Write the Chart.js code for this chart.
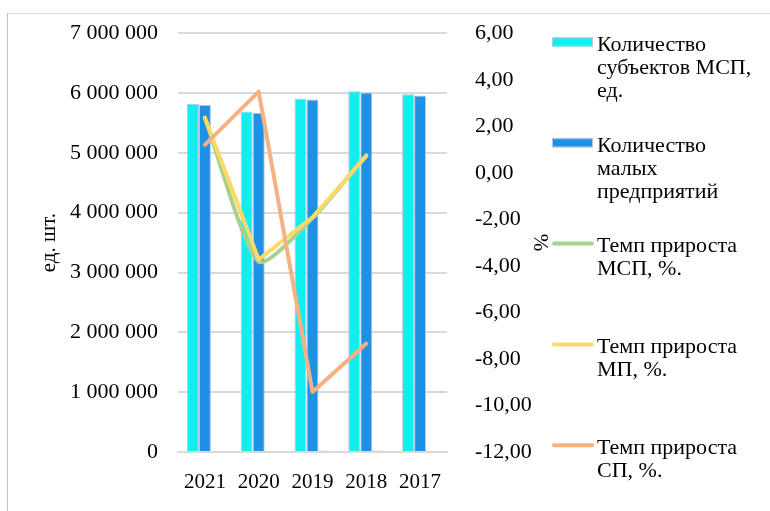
<!DOCTYPE html>
<html><head><meta charset="utf-8">
<script src="https://cdn.jsdelivr.net/npm/chart.js@4"></script>
<style>
html,body{margin:0;padding:0;background:#fff;}
#wrap{position:relative;width:770px;height:511px;overflow:hidden;background:#fff;}
#frame{position:absolute;left:7px;top:13px;width:800px;height:600px;border-left:1px solid #e3b4bb;border-top:1px solid #d9d9d9;}
canvas{position:absolute;left:0;top:0;}
</style></head>
<body><div id="wrap"><div id="frame"></div><canvas id="c" width="770" height="511"></canvas></div>
<script>
const years = ['2021', '2020', '2019', '2018', '2017'];
const smeCount = [5820000, 5690000, 5910000, 6030000, 5980000];
const smallCount = [5800000, 5670000, 5890000, 6010000, 5960000];
const mediumCount = [18000, 18500, 19000, 19500, 18500];
const smeGrowth = [2.35, -3.82, -1.95, 0.75, null];
const smallGrowth = [2.37, -3.73, -1.91, 0.73, null];
const mediumGrowth = [1.2, 3.49, -9.42, -7.34, null];
const leftTicks = { min: 0, max: 7000000, step: 1000000 };
const rightTicks = { min: -12, max: 6, step: 2 };
const legendItems = [
  { kind: 'box', color: '#12EDED', lines: ['Количество', 'субъектов МСП,', 'ед.'] },
  { kind: 'box', color: '#1F91E4', lines: ['Количество', 'малых', 'предприятий'] },
  { kind: 'line', color: '#A9D18E', lines: ['Темп прироста', 'МСП, %.'] },
  { kind: 'line', color: '#FFD966', lines: ['Темп прироста', 'МП, %.'] },
  { kind: 'line', color: '#F4B183', lines: ['Темп прироста', 'СП, %.'] }
];

const FONT = '"Liberation Serif", "Times New Roman", serif';
const fmtInt = v => String(Math.round(v)).replace(/\B(?=(\d{3})+(?!\d))/g, ' ');
const fmtDec = v => v.toFixed(2).replace('.', ',');

const legendPlugin = {
  id: 'customLegend',
  afterDraw(chart) {
    const ctx = chart.ctx;
    ctx.save();
    ctx.font = '22px ' + FONT;
    ctx.fillStyle = '#000';
    ctx.textBaseline = 'middle';
    ctx.textAlign = 'left';
    legendItems.forEach((it, i) => {
      const my = 42 + 100.8 * i;
      if (it.kind === 'box') {
        ctx.fillStyle = it.color;
        ctx.fillRect(552, my - 4.5, 41, 9);
        ctx.strokeStyle = '#b4c7e7';
        ctx.lineWidth = 1;
        ctx.strokeRect(552.5, my - 4, 40, 8);
      } else {
        ctx.strokeStyle = it.color;
        ctx.lineWidth = 4;
        ctx.lineCap = 'round';
        ctx.beginPath();
        ctx.moveTo(554, my);
        ctx.lineTo(592, my);
        ctx.stroke();
      }
      ctx.fillStyle = '#000';
      it.lines.forEach((t, j) => ctx.fillText(t, 597, my + 3 + 23 * j));
    });
    ctx.restore();
  }
};

new Chart(document.getElementById('c'), {
  data: {
    labels: years,
    datasets: [
      { type: 'bar', label: 'Количество субъектов МСП, ед.', data: smeCount, backgroundColor: '#12EDED', borderColor: '#B4C7E7', borderWidth: 1, yAxisID: 'y', order: 10 },
      { type: 'bar', label: 'Количество малых предприятий', data: smallCount, backgroundColor: '#1F91E4', borderColor: '#B4C7E7', borderWidth: 1, yAxisID: 'y', order: 11 },
      { type: 'bar', label: 'Количество средних предприятий', data: mediumCount, backgroundColor: '#A9B8E0', borderWidth: 0, yAxisID: 'y', order: 12 },
      { type: 'line', label: 'Темп прироста МСП, %.', data: smeGrowth, borderColor: '#A9D18E', borderWidth: 4, pointRadius: 0, tension: 0.22, yAxisID: 'y1', order: 3, borderCapStyle: 'round', borderJoinStyle: 'round' },
      { type: 'line', label: 'Темп прироста МП, %.', data: smallGrowth, borderColor: '#FFD966', borderWidth: 4, pointRadius: 0, tension: 0, yAxisID: 'y1', order: 2, borderCapStyle: 'round', borderJoinStyle: 'round' },
      { type: 'line', label: 'Темп прироста СП, %.', data: mediumGrowth, borderColor: '#F4B183', borderWidth: 4, pointRadius: 0, tension: 0, yAxisID: 'y1', order: 1, borderCapStyle: 'round', borderJoinStyle: 'round' }
    ]
  },
  options: {
    responsive: false,
    animation: false,
    devicePixelRatio: 1,
    layout: { padding: { left: 0, right: 218, top: 32, bottom: 0 } },
    datasets: { bar: { categoryPercentage: 0.67, barPercentage: 1.0 } },
    plugins: { legend: { display: false }, tooltip: { enabled: false } },
    scales: {
      x: {
        grid: { display: false },
        border: { display: true, color: '#d9d9d9', width: 2 },
        ticks: { color: '#000', font: { family: FONT, size: 21 }, padding: 10, maxRotation: 0 },
        afterFit(s) { s.height = 59; }
      },
      y: {
        position: 'left',
        min: leftTicks.min, max: leftTicks.max,
        ticks: { stepSize: leftTicks.step, callback: v => fmtInt(v), color: '#000', font: { family: FONT, size: 22 }, padding: 20 },
        grid: { color: '#d9d9d9', lineWidth: 2, drawTicks: false },
        border: { display: false },
        title: { display: true, text: 'ед. шт.', color: '#000', font: { family: FONT, size: 21 }, padding: { top: 37, bottom: 0 } },
        afterFit(s) { s.width = 178; }
      },
      y1: {
        position: 'right',
        min: rightTicks.min, max: rightTicks.max,
        ticks: { stepSize: rightTicks.step, callback: v => fmtDec(v), color: '#000', font: { family: FONT, size: 22 }, padding: 20 },
        grid: { display: false, drawOnChartArea: false },
        border: { display: false },
        title: { display: true, text: '%', color: '#000', font: { family: FONT, size: 21 }, padding: { top: 0, bottom: 0 } },
        afterFit(s) { s.width = 105; }
      }
    }
  },
  plugins: [legendPlugin]
});
</script>
</body></html>
